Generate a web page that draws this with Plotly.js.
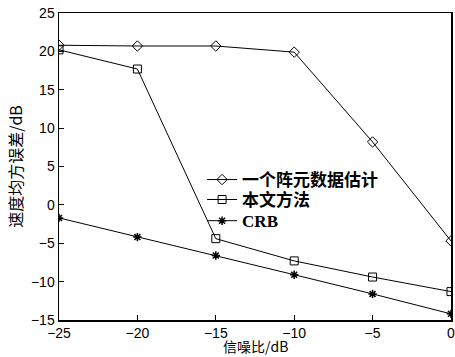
<!DOCTYPE html>
<html><head><meta charset="utf-8">
<script src="https://cdn.plot.ly/plotly-3.0.1.min.js"></script>
<style>body{margin:0;background:#fff}#c{width:455px;height:357px}</style>
</head><body><div id="c"></div>
<script>
const snr = [-25, -20, -15, -10, -5, 0];
const singleElem = [20.8, 20.7, 20.7, 19.9, 8.2, -4.7];
const proposed = [20.2, 17.7, -4.4, -7.3, -9.4, -11.3];
const crb = [-1.7, -4.2, -6.6, -9.1, -11.6, -14.2];
const names = ['一个阵元数据估计', '本文方法', 'CRB'];
const xTicks = [-25, -20, -15, -10, -5, 0];
const yTicks = [-15, -10, -5, 0, 5, 10, 15, 20, 25];
const xTitle = '信噪比/dB';
const yTitle = '速度均方误差/dB';

const line = {color: '#000', width: 1};
const traces = [
  {x: snr, y: singleElem, name: names[0], mode: 'lines+markers', line: line, legend: 'legend',
   marker: {symbol: 'diamond-open', size: 8, color: '#000', line: {width: 1}}},
  {x: snr, y: proposed, name: names[1], mode: 'lines+markers', line: line, legend: 'legend2',
   marker: {symbol: 'square-open', size: 8, color: '#000', line: {width: 1}}},
  {x: snr, y: crb, name: names[2], mode: 'lines+markers', line: line, legend: 'legend3',
   marker: {symbol: 'asterisk-open', size: 7, color: '#000', line: {width: 1.5}}}
];
const axFont = {family: 'Liberation Sans, Arial, sans-serif', size: 14, color: '#000'};
const legFont = {family: 'Liberation Serif, Noto Sans CJK SC, serif', size: 17, color: '#000', weight: 'bold'};
function leg(y) {
  return {x: 0.365, y: y, xanchor: 'left', yanchor: 'middle', bgcolor: 'rgba(0,0,0,0)',
    font: legFont, itemwidth: 30, borderwidth: 0};
}
const layout = {
  width: 455, height: 357,
  margin: {l: 59, r: 4, t: 13, b: 37},
  paper_bgcolor: '#fff', plot_bgcolor: '#fff',
  showlegend: true,
  legend: leg(0.456), legend2: leg(0.391), legend3: leg(0.322),
  xaxis: {range: [-25, 0.001], tickvals: xTicks, ticks: 'inside', ticklen: 5, tickcolor: '#000',
    showline: true, mirror: true, linecolor: '#000', linewidth: 1.5, showgrid: false, zeroline: false,
    tickfont: axFont, ticklabeloverflow: 'allow'},
  yaxis: {range: [-15, 25], tickvals: yTicks, ticks: 'inside', ticklen: 5, tickcolor: '#000',
    showline: true, mirror: true, linecolor: '#000', linewidth: 1.5, showgrid: false, zeroline: false,
    tickfont: axFont,
    title: {text: yTitle, font: {family: 'Noto Sans CJK SC, Liberation Serif, serif', size: 16, color: '#000'}, standoff: 4}},
  annotations: [{text: xTitle, xref: 'paper', yref: 'paper', x: 0.5, y: -0.086, xanchor: 'center', yanchor: 'middle',
    showarrow: false, font: {family: 'Noto Sans CJK SC, Liberation Serif, serif', size: 14, color: '#000'}}]
};
Plotly.newPlot('c', traces, layout, {displayModeBar: false, staticPlot: true});
</script></body></html>
